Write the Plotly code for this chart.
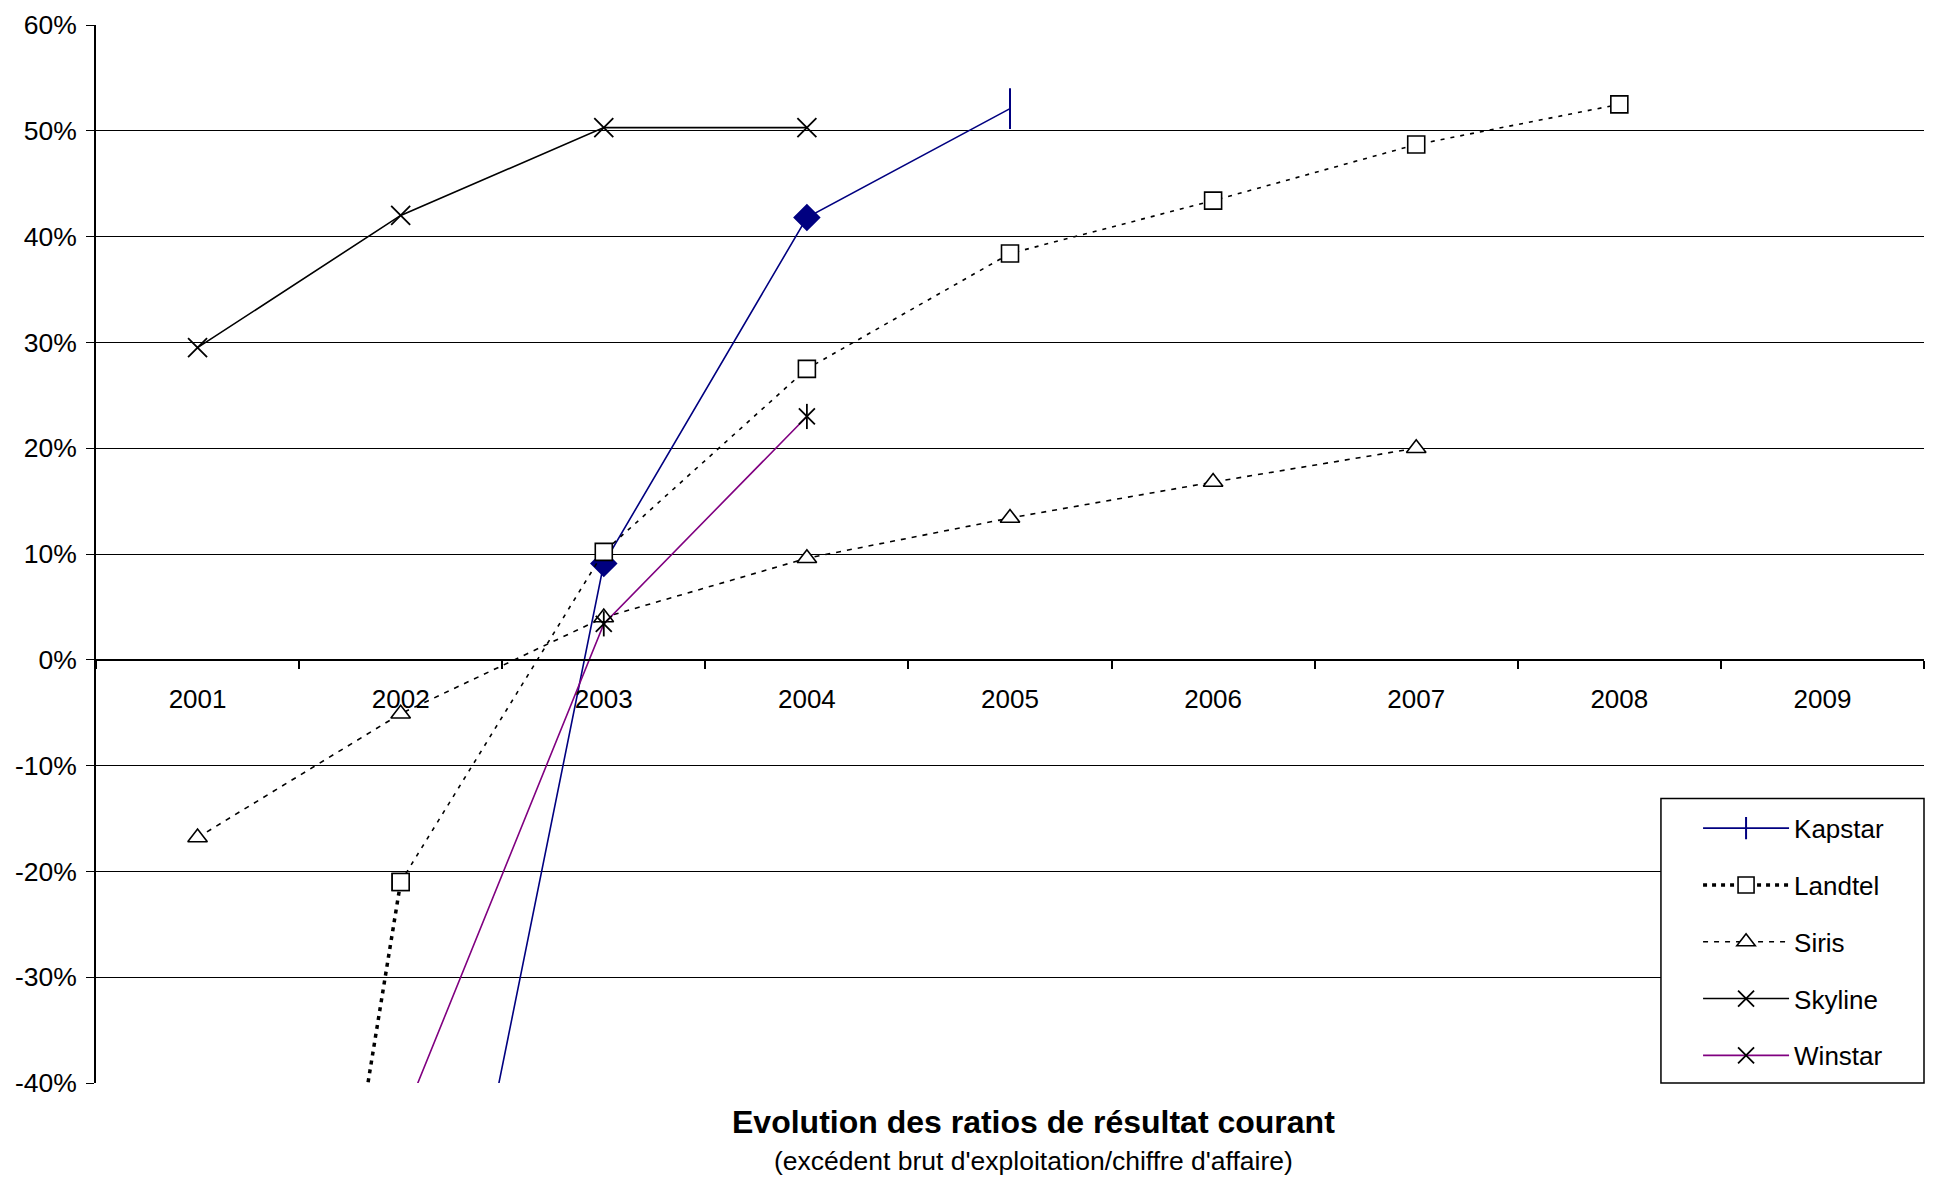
import plotly.graph_objects as go

years = ["2001", "2002", "2003", "2004", "2005", "2006", "2007", "2008", "2009"]

kapstar_x = ["2002", "2003", "2004", "2005"]
kapstar_y = [-86.0, 9.1, 41.8, 52.1]

landtel_x = ["2001", "2002", "2003", "2004", "2005", "2006", "2007", "2008"]
landtel_y = [-139.0, -21.0, 10.2, 27.5, 38.4, 43.4, 48.7, 52.5]

siris_x = ["2001", "2002", "2003", "2004", "2005", "2006", "2007"]
siris_y = [-16.8, -5.1, 4.0, 9.6, 13.4, 16.8, 20.0]

skyline_x = ["2001", "2002", "2003", "2004"]
skyline_y = [29.5, 42.0, 50.3, 50.3]

winstar_x = ["2002", "2003", "2004"]
winstar_y = [-44.0, 3.4, 23.0]

y_ticks = [-40, -30, -20, -10, 0, 10, 20, 30, 40, 50, 60]

FONT = "Liberation Sans, Arial, sans-serif"
NAVY = "#000080"
PURPLE = "#800080"

fig = go.Figure()

# Kapstar
fig.add_trace(go.Scatter(
    x=kapstar_x, y=kapstar_y, name="Kapstar", mode="lines+markers",
    legendgroup="k",
    line=dict(color=NAVY, width=1.6),
    marker=dict(symbol=["line-ns", "diamond", "diamond", "line-ns"],
                size=[29, 19, 19, 29], color=NAVY, opacity=1,
                line=dict(color=NAVY, width=2)),
))

# Landtel: thick dotted first segment (legend style) + thin dashed body
fig.add_trace(go.Scatter(
    x=landtel_x[:2], y=landtel_y[:2], name="Landtel", mode="lines+markers",
    legendgroup="l",
    line=dict(color="black", width=3.5, dash="4px,5px"),
    marker=dict(symbol="square", size=17, color="white", opacity=1,
                line=dict(color="black", width=1.6)),
))
fig.add_trace(go.Scatter(
    x=landtel_x[1:], y=landtel_y[1:], name="Landtel", mode="lines",
    legendgroup="l", showlegend=False,
    line=dict(color="black", width=1.6, dash="4px,6px"),
))
fig.add_trace(go.Scatter(
    x=landtel_x, y=landtel_y, name="Landtel", mode="markers",
    legendgroup="l", showlegend=False,
    marker=dict(symbol="square", size=17, color="white", opacity=1,
                line=dict(color="black", width=1.6)),
))

# Siris
fig.add_trace(go.Scatter(
    x=siris_x, y=siris_y, name="Siris", mode="lines+markers",
    legendgroup="s",
    line=dict(color="black", width=1.6, dash="5px,6px"),
    marker=dict(symbol="triangle-up", size=17, color="white", opacity=1,
                line=dict(color="black", width=1.6)),
))

# Skyline
fig.add_trace(go.Scatter(
    x=skyline_x, y=skyline_y, name="Skyline", mode="lines+markers",
    legendgroup="sk",
    line=dict(color="black", width=1.6),
    marker=dict(symbol="x-thin-open", size=19, color="black",
                line=dict(color="black", width=1.8)),
))

# Winstar
fig.add_trace(go.Scatter(
    x=winstar_x, y=winstar_y, name="Winstar", mode="lines+markers",
    legendgroup="w",
    line=dict(color=PURPLE, width=1.6),
    marker=dict(symbol="x-thin-open", size=16, color="black",
                line=dict(color="black", width=1.8)),
))
fig.add_trace(go.Scatter(
    x=winstar_x, y=winstar_y, name="Winstar", mode="markers",
    legendgroup="w", showlegend=False,
    marker=dict(symbol="line-ns-open", size=18, color="black",
                line=dict(color="black", width=1.8)),
))

fig.update_layout(
    width=1926, height=1169,
    margin=dict(l=88, r=10, t=17, b=94, autoexpand=False),
    paper_bgcolor="white", plot_bgcolor="white",
    font=dict(family=FONT, size=26, color="black"),
    showlegend=True,
    legend=dict(
        x=0.8764, xanchor="left", y=0.263, yanchor="top",
        bgcolor="rgba(0,0,0,0)", borderwidth=0,
        font=dict(family=FONT, size=26, color="black"),
        itemwidth=86, tracegroupgap=20, traceorder="grouped",
        itemclick=False,
    ),
    xaxis=dict(
        type="category", categoryorder="array", categoryarray=years,
        range=[-0.5, 8.5], anchor="free", position=0.4, automargin=False,
        showgrid=False, zeroline=False, showline=True,
        linecolor="black", linewidth=1.5,
        ticks="outside", ticklen=8, tickcolor="black", tickwidth=1.5,
        tickson="boundaries", ticklabelstandoff=16,
        tickfont=dict(family=FONT, size=26, color="black"),
    ),
    yaxis=dict(
        range=[-40, 60], tickvals=y_ticks, automargin=False,
        ticktext=[f"{v}%" for v in y_ticks],
        ticklabeloverflow="allow",
        showgrid=True, gridcolor="black", gridwidth=1.4,
        zeroline=False, showline=True, linecolor="black", linewidth=1.8,
        ticks="outside", ticklen=8, tickcolor="black", tickwidth=1.4,
        ticklabelstandoff=4,
        tickfont=dict(family=FONT, size=26.5, color="black"),
    ),
    shapes=[
        dict(type="rect", xref="paper", yref="paper",
             x0=0.8561, x1=1.0, y0=0.0, y1=0.269,
             fillcolor="white", line=dict(color="black", width=1.5),
             layer="above"),
    ],
    annotations=[
        dict(text="<b>Evolution des ratios de résultat courant</b>",
             xref="paper", yref="paper", x=0.5126, y=-0.0370,
             xanchor="center", yanchor="middle", showarrow=False,
             font=dict(family=FONT, size=32, color="black")),
        dict(text="(excédent brut d'exploitation/chiffre d'affaire)",
             xref="paper", yref="paper", x=0.5126, y=-0.0738,
             xanchor="center", yanchor="middle", showarrow=False,
             font=dict(family=FONT, size=26.5, color="black")),
    ],
)

fig.write_html("out.html")
